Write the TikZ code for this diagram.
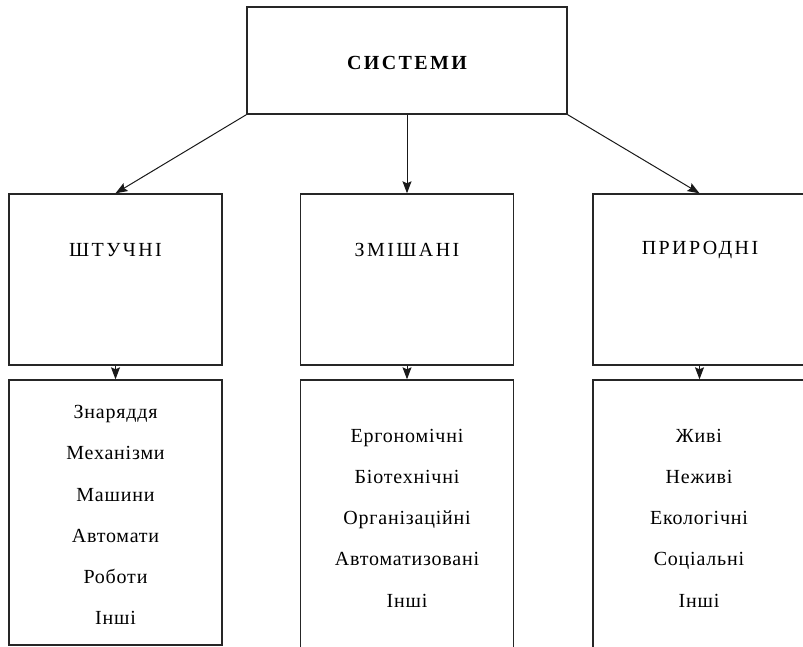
\documentclass[tikz,border=0pt]{standalone}
\usepackage{fontspec}
\setmainfont{Liberation Serif}
\newfontfamily\headfont[LetterSpace=12]{Liberation Serif}
\newfontfamily\itemfont[LetterSpace=4]{Liberation Serif}
\usetikzlibrary{arrows.meta}
\begin{document}
\begin{tikzpicture}[x=1pt,y=-1pt,
  frame/.style={draw=black!85, line width=1.4pt, minimum width=213pt, inner sep=0pt},
  lbl/.style={font=\headfont\fontsize{20}{24}\selectfont, inner sep=0pt},
  items/.style={font=\itemfont\fontsize{20}{41.2}\selectfont, align=center, inner sep=0pt},
  conn/.style={draw=black!90, line width=1pt, -{Stealth[length=12pt,width=9pt,inset=2pt]}}]
\useasboundingbox (0,0) rectangle (803,646);
\clip (0,0) rectangle (803,646);
% top
\node[frame, minimum width=320pt, minimum height=107pt] (top) at (407,60.5) {};
\node[font=\headfont\bfseries\fontsize{20}{24}\selectfont, inner sep=0pt] (toptext) at (407,63) {СИСТЕМИ};
% middle row
\node[frame, minimum height=171pt] (a) at (115.5,279.5) {};
\node[frame, minimum height=171pt] (b) at (407,279.5) {};
\node[frame, minimum height=171pt] (c) at (699.5,279.5) {};
\node[lbl] (atext) at (115.5,250) {ШТУЧНІ};
\node[lbl] (btext) at (407,250) {ЗМІШАНІ};
\node[lbl] (ctext) at (700,250) {ПРИРОДНІ};
% bottom row
\node[frame, minimum height=265pt] (aa) at (115.5,512.5) {};
\node[frame, minimum height=280pt] (bb) at (407,520) {};
\node[frame, minimum height=280pt] (cc) at (699.5,520) {};
\node[items] (aatext) at (115.5,515) {Знаряддя\\Механізми\\Машини\\Автомати\\Роботи\\Інші};
\node[items] (bbtext) at (407,518) {Ергономічні\\Біотехнічні\\Організаційні\\Автоматизовані\\Інші};
\node[items] (cctext) at (699,518) {Живі\\Неживі\\Екологічні\\Соціальні\\Інші};
% connectors
\draw[conn] (top.south west) -- (a.north);
\draw[conn] (top.south) -- (b.north);
\draw[conn] (top.south east) -- (c.north);
\draw[conn] (a.south) -- (aa.north);
\draw[conn] (b.south) -- (bb.north);
\draw[conn] (c.south) -- (cc.north);
\end{tikzpicture}
\end{document}
